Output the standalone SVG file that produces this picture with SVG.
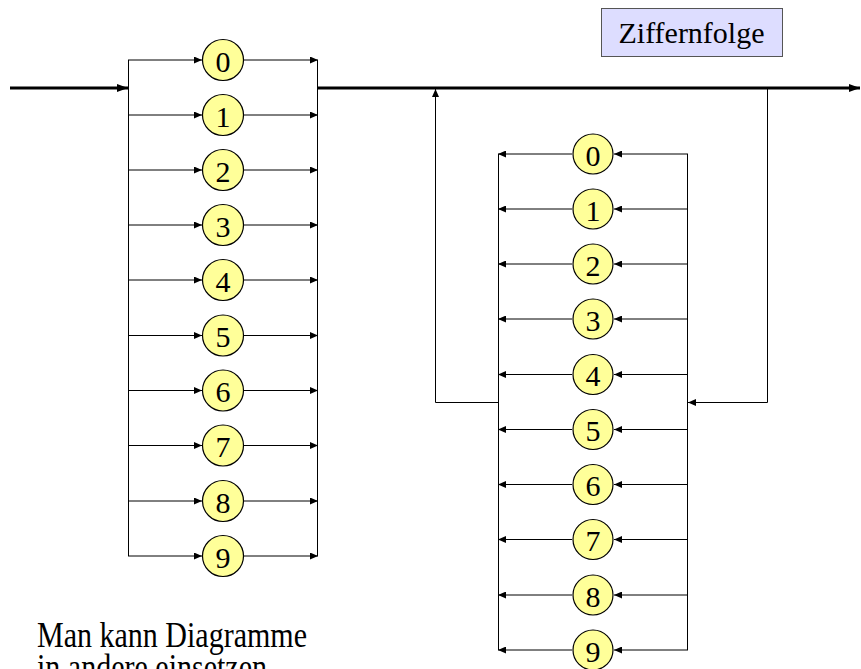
<svg xmlns="http://www.w3.org/2000/svg" width="861" height="669" viewBox="0 0 861 669">
<style>
.ln{fill:none;stroke:#000;stroke-width:1}
.th{fill:none;stroke:#000;stroke-width:3}
.nd ellipse{fill:#ffff99;stroke:#000;stroke-width:1.2}
.nd text{font-family:"Liberation Serif","Times New Roman",serif;font-size:30px;fill:#000;text-anchor:middle}
.lbl{font-family:"Liberation Serif","Times New Roman",serif;fill:#000}
</style>
<defs>
<marker id="a" markerUnits="userSpaceOnUse" markerWidth="8" markerHeight="7" refX="8" refY="3.5" orient="auto"><path d="M0,0 L8,3.5 L0,7 z" fill="#000"/></marker>
<marker id="b" markerUnits="userSpaceOnUse" markerWidth="11" markerHeight="8" refX="11" refY="4" orient="auto"><path d="M0,0 L11,4 L0,8 z" fill="#000"/></marker>
</defs>
<rect width="861" height="669" fill="#fff"/>
<g id="connectors">
<line class="th" x1="10" y1="88" x2="128" y2="88" marker-end="url(#b)"/>
<line class="th" x1="318" y1="88" x2="860" y2="88" marker-end="url(#b)"/>
<line class="ln" x1="128.5" y1="60" x2="128.5" y2="556"/>
<line class="ln" x1="317.5" y1="60" x2="317.5" y2="556"/>
<line class="ln" x1="128" y1="60" x2="202" y2="60" marker-end="url(#a)"/>
<line class="ln" x1="244" y1="60" x2="318" y2="60" marker-end="url(#a)"/>
<line class="ln" x1="128" y1="115" x2="202" y2="115" marker-end="url(#a)"/>
<line class="ln" x1="244" y1="115" x2="318" y2="115" marker-end="url(#a)"/>
<line class="ln" x1="128" y1="170" x2="202" y2="170" marker-end="url(#a)"/>
<line class="ln" x1="244" y1="170" x2="318" y2="170" marker-end="url(#a)"/>
<line class="ln" x1="128" y1="225" x2="202" y2="225" marker-end="url(#a)"/>
<line class="ln" x1="244" y1="225" x2="318" y2="225" marker-end="url(#a)"/>
<line class="ln" x1="128" y1="280" x2="202" y2="280" marker-end="url(#a)"/>
<line class="ln" x1="244" y1="280" x2="318" y2="280" marker-end="url(#a)"/>
<line class="ln" x1="128" y1="335.5" x2="202" y2="335.5" marker-end="url(#a)"/>
<line class="ln" x1="244" y1="335.5" x2="318" y2="335.5" marker-end="url(#a)"/>
<line class="ln" x1="128" y1="390.5" x2="202" y2="390.5" marker-end="url(#a)"/>
<line class="ln" x1="244" y1="390.5" x2="318" y2="390.5" marker-end="url(#a)"/>
<line class="ln" x1="128" y1="445.5" x2="202" y2="445.5" marker-end="url(#a)"/>
<line class="ln" x1="244" y1="445.5" x2="318" y2="445.5" marker-end="url(#a)"/>
<line class="ln" x1="128" y1="501" x2="202" y2="501" marker-end="url(#a)"/>
<line class="ln" x1="244" y1="501" x2="318" y2="501" marker-end="url(#a)"/>
<line class="ln" x1="128" y1="556" x2="202" y2="556" marker-end="url(#a)"/>
<line class="ln" x1="244" y1="556" x2="318" y2="556" marker-end="url(#a)"/>
<polyline class="ln" points="767.5,88 767.5,402.5 688,402.5" marker-end="url(#a)"/>
<polyline class="ln" points="498,402.5 435.5,402.5 435.5,89" marker-end="url(#a)"/>
<line class="ln" x1="498.5" y1="154" x2="498.5" y2="650"/>
<line class="ln" x1="687.5" y1="154" x2="687.5" y2="650"/>
<line class="ln" x1="688" y1="154" x2="614" y2="154" marker-end="url(#a)"/>
<line class="ln" x1="572" y1="154" x2="498" y2="154" marker-end="url(#a)"/>
<line class="ln" x1="688" y1="209" x2="614" y2="209" marker-end="url(#a)"/>
<line class="ln" x1="572" y1="209" x2="498" y2="209" marker-end="url(#a)"/>
<line class="ln" x1="688" y1="264" x2="614" y2="264" marker-end="url(#a)"/>
<line class="ln" x1="572" y1="264" x2="498" y2="264" marker-end="url(#a)"/>
<line class="ln" x1="688" y1="319" x2="614" y2="319" marker-end="url(#a)"/>
<line class="ln" x1="572" y1="319" x2="498" y2="319" marker-end="url(#a)"/>
<line class="ln" x1="688" y1="374.5" x2="614" y2="374.5" marker-end="url(#a)"/>
<line class="ln" x1="572" y1="374.5" x2="498" y2="374.5" marker-end="url(#a)"/>
<line class="ln" x1="688" y1="429.5" x2="614" y2="429.5" marker-end="url(#a)"/>
<line class="ln" x1="572" y1="429.5" x2="498" y2="429.5" marker-end="url(#a)"/>
<line class="ln" x1="688" y1="484.5" x2="614" y2="484.5" marker-end="url(#a)"/>
<line class="ln" x1="572" y1="484.5" x2="498" y2="484.5" marker-end="url(#a)"/>
<line class="ln" x1="688" y1="539.5" x2="614" y2="539.5" marker-end="url(#a)"/>
<line class="ln" x1="572" y1="539.5" x2="498" y2="539.5" marker-end="url(#a)"/>
<line class="ln" x1="688" y1="595" x2="614" y2="595" marker-end="url(#a)"/>
<line class="ln" x1="572" y1="595" x2="498" y2="595" marker-end="url(#a)"/>
<line class="ln" x1="688" y1="650" x2="614" y2="650" marker-end="url(#a)"/>
<line class="ln" x1="572" y1="650" x2="498" y2="650" marker-end="url(#a)"/>
</g>
<g id="label-ziffernfolge">
<rect x="601.5" y="8.5" width="181" height="48" fill="#ddddff" stroke="#555" stroke-width="1"/>
<text class="lbl" x="691.5" y="43" font-size="30" text-anchor="middle">Ziffernfolge</text>
</g>
<g id="note">
<text class="lbl" x="37" y="647" font-size="36" textLength="270" lengthAdjust="spacingAndGlyphs">Man kann Diagramme</text>
<text class="lbl" x="37" y="679" font-size="36" textLength="230" lengthAdjust="spacingAndGlyphs">in andere einsetzen</text>
</g>
<g id="L0" class="nd"><ellipse cx="223" cy="60" rx="20.5" ry="20.5"/><text x="223" y="71.5">0</text></g>
<g id="L1" class="nd"><ellipse cx="223" cy="115" rx="20.5" ry="20.5"/><text x="223" y="126.5">1</text></g>
<g id="L2" class="nd"><ellipse cx="223" cy="170" rx="20.5" ry="20.5"/><text x="223" y="181.5">2</text></g>
<g id="L3" class="nd"><ellipse cx="223" cy="225" rx="20.5" ry="20.5"/><text x="223" y="236.5">3</text></g>
<g id="L4" class="nd"><ellipse cx="223" cy="280" rx="20.5" ry="20.5"/><text x="223" y="291.5">4</text></g>
<g id="L5" class="nd"><ellipse cx="223" cy="335.5" rx="20.5" ry="20.5"/><text x="223" y="347">5</text></g>
<g id="L6" class="nd"><ellipse cx="223" cy="390.5" rx="20.5" ry="20.5"/><text x="223" y="402">6</text></g>
<g id="L7" class="nd"><ellipse cx="223" cy="445.5" rx="20.5" ry="20.5"/><text x="223" y="457">7</text></g>
<g id="L8" class="nd"><ellipse cx="223" cy="501" rx="20.5" ry="20.5"/><text x="223" y="512.5">8</text></g>
<g id="L9" class="nd"><ellipse cx="223" cy="556" rx="20.5" ry="20.5"/><text x="223" y="567.5">9</text></g>
<g id="R0" class="nd"><ellipse cx="593" cy="154" rx="20" ry="20"/><text x="593" y="165.5">0</text></g>
<g id="R1" class="nd"><ellipse cx="593" cy="209" rx="20" ry="20"/><text x="593" y="220.5">1</text></g>
<g id="R2" class="nd"><ellipse cx="593" cy="264" rx="20" ry="20"/><text x="593" y="275.5">2</text></g>
<g id="R3" class="nd"><ellipse cx="593" cy="319" rx="20" ry="20"/><text x="593" y="330.5">3</text></g>
<g id="R4" class="nd"><ellipse cx="593" cy="374.5" rx="20" ry="20"/><text x="593" y="386">4</text></g>
<g id="R5" class="nd"><ellipse cx="593" cy="429.5" rx="20" ry="20"/><text x="593" y="441">5</text></g>
<g id="R6" class="nd"><ellipse cx="593" cy="484.5" rx="20" ry="20"/><text x="593" y="496">6</text></g>
<g id="R7" class="nd"><ellipse cx="593" cy="539.5" rx="20" ry="20"/><text x="593" y="551">7</text></g>
<g id="R8" class="nd"><ellipse cx="593" cy="595" rx="20" ry="20"/><text x="593" y="606.5">8</text></g>
<g id="R9" class="nd"><ellipse cx="593" cy="650" rx="20" ry="20"/><text x="593" y="661.5">9</text></g>
</svg>
